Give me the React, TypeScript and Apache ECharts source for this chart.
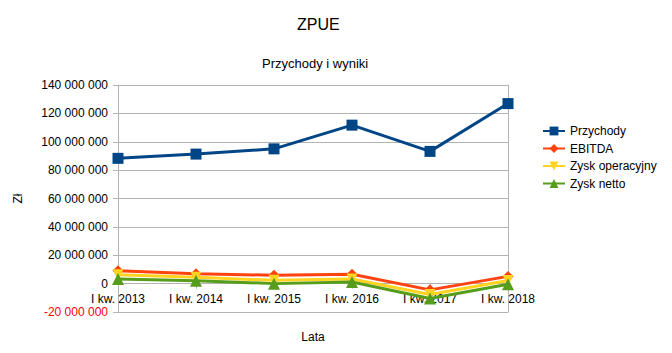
import React, { useEffect, useRef } from "react";
import * as echarts from "echarts";

const categories = ["I kw. 2013", "I kw. 2014", "I kw. 2015", "I kw. 2016", "I kw. 2017", "I kw. 2018"];
const przychody = [88300000, 91300000, 95000000, 111700000, 93200000, 126900000];
const ebitda = [9100000, 7000000, 5900000, 6600000, -4400000, 5100000];
const zyskOperacyjny = [6300000, 4500000, 2300000, 3300000, -7600000, 2200000];
const zyskNetto = [3300000, 2100000, 0, 1200000, -10500000, -500000];

const FONT = "Liberation Sans, Arial, sans-serif";

function fmt(v: number): string {
  const s = Math.abs(v).toString().replace(/\B(?=(\d{3})+(?!\d))/g, " ");
  return (v < 0 ? "-" : "") + s;
}

export default function App() {
  const ref = useRef<HTMLDivElement>(null);
  useEffect(() => {
    if (!ref.current) return;
    const chart = echarts.init(ref.current, undefined, { renderer: "svg" });
    const gray = "#b3b3b3";
    const mk = (name: string, data: number[], color: string, symbol: string, size: number, rotate = 0) => ({
      name,
      type: "line",
      data,
      symbol,
      symbolSize: size,
      symbolRotate: rotate,
      lineStyle: { color, width: 3 },
      itemStyle: { color },
      z: 2,
    });
    chart.setOption({
      animation: false,
      backgroundColor: "#ffffff",
      textStyle: { fontFamily: FONT },
      title: [
        { text: "ZPUE", left: 292, top: 11, textStyle: { fontSize: 16, fontWeight: "normal", color: "#000", fontFamily: FONT } },
        { text: "Przychody i wyniki", left: 257, top: 52, textStyle: { fontSize: 13, fontWeight: "normal", color: "#000", fontFamily: FONT } },
      ],
      legend: {
        orient: "vertical",
        left: 537,
        top: 120,
        itemWidth: 22,
        itemHeight: 11,
        itemGap: 5.5,
        textStyle: { fontSize: 12, color: "#000", fontFamily: FONT },
        data: ["Przychody", "EBITDA", "Zysk operacyjny", "Zysk netto"],
      },
      grid: { left: 118, right: 164, top: 85, bottom: 41, containLabel: false, outerBoundsMode: "none" },
      xAxis: {
        type: "category",
        data: categories,
        boundaryGap: false,
        name: "Lata",
        nameLocation: "middle",
        nameGap: 19,
        nameTextStyle: { fontSize: 12, color: "#000", fontFamily: FONT },
        axisLine: { onZero: true, lineStyle: { color: gray, width: 1 } },
        axisTick: { show: true, length: 5, lineStyle: { color: gray } },
        axisLabel: { fontSize: 12, color: "#000", margin: -19, fontFamily: FONT, showMaxLabel: true, showMinLabel: true, interval: 0 },
        splitLine: { show: false },
      },
      yAxis: [
        {
          type: "value",
          min: -20000000,
          max: 140000000,
          interval: 20000000,
          name: "Zł",
          nameLocation: "middle",
          nameGap: 94,
          nameRotate: 90,
          nameTextStyle: { fontSize: 12, color: "#000", fontFamily: FONT },
          axisLine: { show: true, lineStyle: { color: gray, width: 1 } },
          axisTick: { show: true, length: 5, lineStyle: { color: gray } },
          axisLabel: {
            fontSize: 12,
            margin: 10,
            fontFamily: FONT,
            formatter: (v: number) => (v < 0 ? "{neg|" + fmt(v) + "}" : "{pos|" + fmt(v) + "}"),
            rich: {
              neg: { color: "#ff0000", fontSize: 12, fontFamily: FONT },
              pos: { color: "#000000", fontSize: 12, fontFamily: FONT },
            },
          },
          splitLine: { show: true, lineStyle: { color: gray, width: 1 } },
        },
        {
          type: "value",
          position: "right",
          min: -20000000,
          max: 140000000,
          interval: 20000000,
          axisLine: { show: true, lineStyle: { color: gray, width: 1 } },
          axisTick: { show: false },
          axisLabel: { show: false },
          splitLine: { show: false },
        },
      ],
      series: [
        mk("Przychody", przychody, "#004586", "rect", 11),
        mk("EBITDA", ebitda, "#ff420e", "diamond", 11),
        mk("Zysk operacyjny", zyskOperacyjny, "#ffd320", "triangle", 11, 180),
        mk("Zysk netto", zyskNetto, "#579d1c", "triangle", 12),
      ],
    });
    return () => chart.dispose();
  }, []);
  return <div ref={ref} style={{ width: 672, height: 353, position: "absolute", left: 0, top: 0 }} />;
}
